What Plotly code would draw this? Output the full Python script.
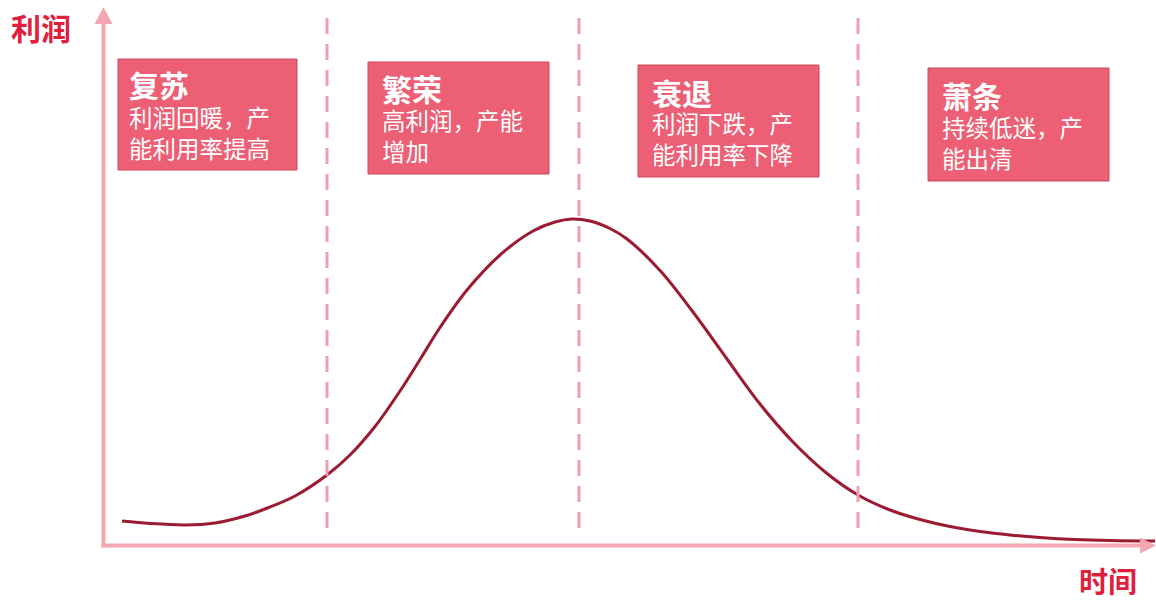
import plotly.graph_objects as go

# ---------------- data ----------------
# time axis (units from the origin) and profit values of the business-cycle curve
TIME = [20, 48, 83, 113, 143, 168, 193, 225, 248, 273, 298, 318, 338, 365, 398,
        431, 453, 470, 488, 508, 525, 558, 591, 625, 658, 691, 725, 756, 788, 818,
        848, 878, 908, 938, 973, 1008, 1053]
PROFIT = [26, 23.5, 22, 24, 31, 40, 51, 72, 92, 120.5, 156, 187.5, 219.5, 257, 292,
          316, 325, 328, 326, 318.5, 308, 276.5, 235, 188, 143, 105, 73.5, 52, 37, 27.5,
          20.5, 15.5, 12, 9.5, 7.5, 6.5, 6]
# phase boundaries on the time axis
PHASE_BOUNDS = [225, 477, 756]
PHASE_NAMES = ["复苏", "繁荣", "衰退", "萧条"]
PHASE_LINE1 = ["利润回暖，产", "高利润，产能", "利润下跌，产", "持续低迷，产"]
PHASE_LINE2 = ["能利用率提高", "增加", "能利用率下降", "能出清"]
Y_LABEL = "利润"
X_LABEL = "时间"

# ---------------- layout helpers (pixel -> axis units) ----------------
W, H = 1156, 601
X0, Y0 = 102, 547


def dx(p):
    return p - X0


def dy(p):
    return Y0 - p


FONT = "Noto Sans CJK SC, Microsoft YaHei, sans-serif"
AXIS_COLOR = "#F5A6B4"
DASH_COLOR = "#F39DAE"
CURVE_COLOR = "#9B1B32"
BOX_FILL = "#EC5F74"
BOX_LINE = "#C94B5F"
LABEL_RED = "#E1203D"

# box geometry (pixels): left, top, right, bottom, text-left, title-y, line1-y, line2-y
BOXES = [
    (118, 59, 297, 170, 127, 83.5, 117, 147),
    (368, 62, 549, 174, 380, 87.5, 121.5, 150),
    (638, 65, 819, 177, 650, 91.5, 124.5, 153),
    (928, 68, 1109, 181, 940, 94.5, 128.5, 157),
]

fig = go.Figure()

fig.add_trace(go.Scatter(
    x=TIME, y=PROFIT, mode="lines",
    line=dict(color=CURVE_COLOR, width=3, shape="spline", smoothing=1),
    hoverinfo="skip",
))

shapes = []
# dashed phase boundaries
for b in PHASE_BOUNDS:
    shapes.append(dict(type="line", xref="x", yref="y",
                       x0=b, x1=b, y0=dy(18), y1=dy(535),
                       line=dict(color=DASH_COLOR, width=3, dash="16px,10px")))
# axes
shapes.append(dict(type="line", xref="x", yref="y", x0=dx(103.5), x1=dx(103.5),
                   y0=dy(547.5), y1=dy(20), line=dict(color=AXIS_COLOR, width=4)))
shapes.append(dict(type="line", xref="x", yref="y", x0=dx(101.5), x1=dx(1143),
                   y0=dy(545.5), y1=dy(545.5), line=dict(color=AXIS_COLOR, width=4)))
# arrow heads
shapes.append(dict(type="path", xref="x", yref="y",
                   path=f"M {dx(103.5)},{dy(7)} L {dx(94.5)},{dy(24)} L {dx(112.5)},{dy(24)} Z",
                   fillcolor=AXIS_COLOR, line=dict(width=0)))
shapes.append(dict(type="path", xref="x", yref="y",
                   path=f"M {dx(1156)},{dy(545.5)} L {dx(1140)},{dy(537.5)} L {dx(1140)},{dy(553.5)} Z",
                   fillcolor=AXIS_COLOR, line=dict(width=0)))
# phase boxes
for (l, t, r, btm, *_rest) in BOXES:
    shapes.append(dict(type="rect", xref="x", yref="y",
                       x0=dx(l), x1=dx(r), y0=dy(t), y1=dy(btm),
                       fillcolor=BOX_FILL, line=dict(color=BOX_LINE, width=1)))

annotations = []
for i, (l, t, r, btm, tx, ty, l1, l2) in enumerate(BOXES):
    annotations.append(dict(x=dx(tx), y=dy(ty), xref="x", yref="y",
                            text=f"<b>{PHASE_NAMES[i]}</b>", showarrow=False,
                            xanchor="left", yanchor="middle",
                            font=dict(family=FONT, size=30, color="white")))
    annotations.append(dict(x=dx(tx), y=dy((l1 + l2) / 2), xref="x", yref="y",
                            text=PHASE_LINE1[i] + "<br>" + PHASE_LINE2[i],
                            showarrow=False, align="left",
                            xanchor="left", yanchor="middle",
                            font=dict(family=FONT, size=23.5, color="white")))

annotations.append(dict(x=dx(41), y=dy(27), xref="x", yref="y",
                        text=f"<b>{Y_LABEL}</b>", showarrow=False,
                        xanchor="center", yanchor="middle",
                        font=dict(family=FONT, size=30, color=LABEL_RED)))
annotations.append(dict(x=dx(1108), y=dy(580), xref="x", yref="y",
                        text=f"<b>{X_LABEL}</b>", showarrow=False,
                        xanchor="center", yanchor="middle",
                        font=dict(family=FONT, size=29, color=LABEL_RED)))

fig.update_layout(
    width=W, height=H,
    margin=dict(l=0, r=0, t=0, b=0),
    paper_bgcolor="white", plot_bgcolor="white",
    showlegend=False,
    xaxis=dict(range=[dx(0), dx(W)], visible=False, fixedrange=True),
    yaxis=dict(range=[dy(H), dy(0)], visible=False, fixedrange=True),
    shapes=shapes,
    annotations=annotations,
)

fig.write_html("out.html", config={"displayModeBar": False})
